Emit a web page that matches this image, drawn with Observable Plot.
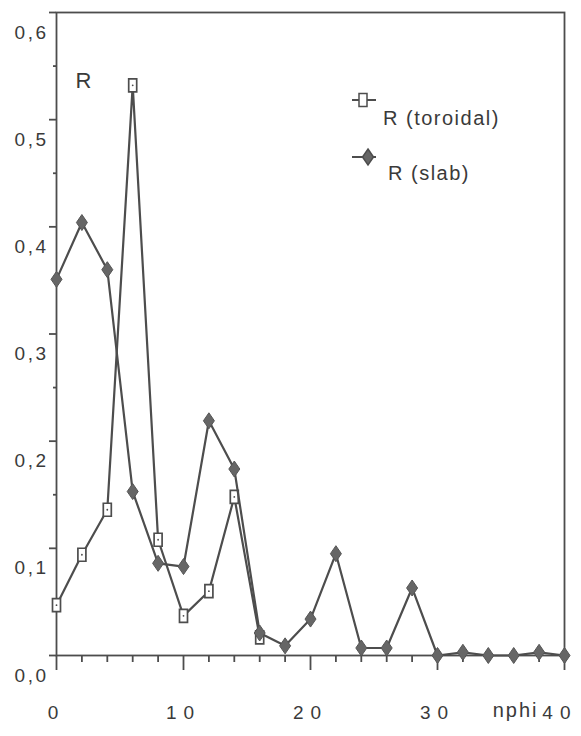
<!DOCTYPE html>
<html><head><meta charset="utf-8">
<script src="https://cdn.jsdelivr.net/npm/d3@7"></script>
<script src="https://cdn.jsdelivr.net/npm/@observablehq/plot@0.6"></script>
<style>
html,body{margin:0;padding:0;background:#fff;}
#wrap{position:relative;width:581px;height:736px;}
</style></head><body><div id="wrap"></div>
<script>
// ---- data ----
const nphi      = [0, 2, 4, 6, 8, 10, 12, 14, 16, 18, 20, 22, 24, 26, 28, 30, 32, 34, 36, 38, 40];
const rToroidal = [0.047, 0.094, 0.136, 0.532, 0.108, 0.037, 0.060, 0.148, 0.017, null, null, null, null, null, null, null, null, null, null, null, null];
const rSlab     = [0.351, 0.404, 0.360, 0.153, 0.086, 0.083, 0.219, 0.174, 0.021, 0.009, 0.034, 0.095, 0.007, 0.007, 0.063, 0.000, 0.003, 0.000, 0.000, 0.003, 0.000];
const seriesNames = ["R (toroidal)", "R (slab)"];
const xMajorTicks = [0, 10, 20, 30, 40];
const xMinorTicks = [2, 4, 6, 8, 12, 14, 16, 18, 22, 24, 26, 28, 32, 34, 36, 38];
const xTickLabels = ["0", "10", "20", "30", "40"];
const yMajorTicks = [0, 0.1, 0.2, 0.3, 0.4, 0.5, 0.6];
const yMinorTicks = [0.05, 0.15, 0.25, 0.35, 0.45, 0.55];
const yTickLabels = ["0,0", "0,1", "0,2", "0,3", "0,4", "0,5", "0,6"];
const xAxisName = "nphi";
const yAxisName = "R";

// ---- build ----
const ink = "#4d4d4d";
const txt = "#3a3a3a";
const rowsT = nphi.map((x, i) => ({x, y: rToroidal[i]}));
const rowsS = nphi.map((x, i) => ({x, y: rSlab[i]}));
const rectSym = {draw(ctx) { ctx.moveTo(-4, -6.5); ctx.lineTo(4, -6.5); ctx.lineTo(4, 6.5); ctx.lineTo(-4, 6.5); ctx.closePath(); }};
const diamondSym = {draw(ctx) { ctx.moveTo(0, -8); ctx.lineTo(5.5, 0); ctx.lineTo(0, 8); ctx.lineTo(-5.5, 0); ctx.closePath(); }};
const font = "Liberation Sans, Arial, sans-serif";

const chart = Plot.plot({
  width: 581, height: 736,
  marginLeft: 56, marginRight: 17, marginTop: 12, marginBottom: 81,
  x: {domain: [0, 40]},
  y: {domain: [0, 0.6]},
  style: {fontFamily: font, color: ink, background: "#fff", overflow: "visible"},
  marks: [
    Plot.frame({stroke: ink, strokeWidth: 1.8}),
    Plot.axisX({ticks: xMinorTicks, tickSize: 7, tickFormat: () => "", label: null, strokeWidth: 1.8}),
    Plot.axisX({ticks: xMajorTicks, tickSize: 15, tickFormat: () => "", label: null, strokeWidth: 1.8}),
    Plot.axisX({ticks: xMajorTicks.slice(0, 4), tickSize: 0, tickPadding: 50, label: null,
      tickFormat: d => xTickLabels[xMajorTicks.indexOf(d)], fontSize: 19, fill: txt}),
    Plot.text([xTickLabels[4]], {x: [xMajorTicks[4]], frameAnchor: "bottom", lineAnchor: "top", dy: 50, dx: 13,
      textAnchor: "end", fontSize: 19, fill: txt}),
    Plot.text([xAxisName], {x: [xMajorTicks[4]], frameAnchor: "bottom", lineAnchor: "top", dy: 47, dx: -26,
      textAnchor: "end", fontSize: 20, fill: txt}),
    Plot.axisY({ticks: yMinorTicks, tickSize: 3, tickFormat: () => "", label: null, strokeWidth: 1.8}),
    Plot.axisY({ticks: yMajorTicks, tickSize: 7, tickFormat: () => "", label: null, strokeWidth: 1.8}),
    Plot.axisY({ticks: yMajorTicks, tickSize: 0, tickPadding: 8, dy: 20, label: null,
      tickFormat: d => yTickLabels[yMajorTicks.indexOf(d)], fontSize: 19, fill: txt}),
    Plot.text([yAxisName], {frameAnchor: "top-left", dx: 19, dy: 75, lineAnchor: "bottom", textAnchor: "start", fontSize: 22, fill: txt}),
    Plot.line(rowsT, {x: "x", y: "y", stroke: ink, strokeWidth: 2.2}),
    Plot.dot(rowsT, {x: "x", y: "y", symbol: rectSym, fill: "#fff", stroke: ink, strokeWidth: 1.7}),
    Plot.dot(rowsT, {x: "x", y: "y", r: 0.9, fill: ink}),
    Plot.line(rowsS, {x: "x", y: "y", stroke: ink, strokeWidth: 2.2}),
    Plot.dot(rowsS, {x: "x", y: "y", symbol: diamondSym, fill: "#666", stroke: "#555", strokeWidth: 1})
  ]
});

// letter spacing on tick labels
const svg = d3.select(chart);
svg.selectAll('g[aria-label="y-axis tick label"] text').style("letter-spacing", "2.5px");
svg.selectAll('g[aria-label="x-axis tick label"] text').style("letter-spacing", "7px");
svg.selectAll('g[aria-label="text"] text').style("letter-spacing", function() {
  const t = this.textContent;
  return t === xTickLabels[4] ? "7px" : t === xAxisName ? "2px" : null;
});

// legend (in pixels, top-right area of the frame)
const leg = svg.append("g").attr("font-family", font).attr("font-size", 20).attr("fill", txt)
  .attr("text-anchor", "start").style("letter-spacing", "1.5px");
const legRows = [
  {name: seriesNames[0], ly: 100, sx: 363, sym: rectSym, fill: "#fff", tx: 383, ty: 125},
  {name: seriesNames[1], ly: 157, sx: 368, sym: diamondSym, fill: "#666", tx: 388, ty: 180}
];
for (const r of legRows) {
  leg.append("line").attr("x1", 352).attr("x2", 376).attr("y1", r.ly).attr("y2", r.ly).attr("stroke", ink).attr("stroke-width", 2);
  leg.append("path").attr("d", d3.symbol(r.sym)()).attr("transform", `translate(${r.sx},${r.ly})`)
    .attr("fill", r.fill).attr("stroke", ink).attr("stroke-width", 1.5);
  leg.append("text").attr("x", r.tx).attr("y", r.ty).attr("text-anchor", "start").text(r.name);
}
document.getElementById("wrap").appendChild(chart);
</script></body></html>
